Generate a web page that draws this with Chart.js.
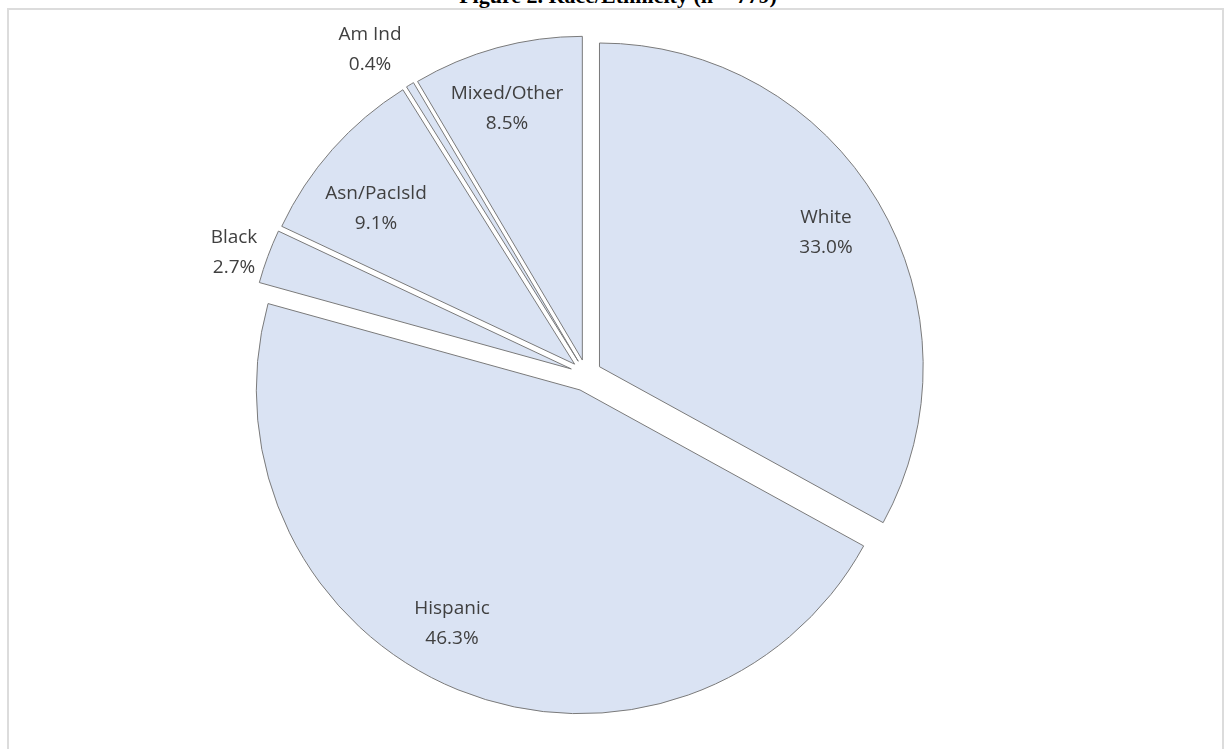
<!DOCTYPE html>
<html>
<head>
<meta charset="utf-8">
<script src="https://cdn.jsdelivr.net/npm/chart.js@4.4.1/dist/chart.umd.min.js"></script>
<style>
    html, body { margin: 0; padding: 0; background: #fff; overflow: hidden; }
    #wrap { position: relative; width: 1231px; height: 749px; }
    #frame {
        position: absolute; left: 7px; top: 8px; width: 1217px; height: 760px;
        border: 2px solid #dcdcdc; box-sizing: border-box;
    }
    #title {
        position: absolute; left: 0; width: 1236px; top: -17px;
        text-align: center; font: bold 22px "Liberation Serif", "Times New Roman", serif; color: #000;
    }
    #chartBox { position: absolute; left: 0; top: 0; width: 1231px; height: 749px; }
</style>
</head>
<body>
<div id="wrap">
    <div id="frame"></div>
    <div id="title">Figure 2. Race/Ethnicity (n = 779)</div>
    <div id="chartBox"><canvas id="raceChart"></canvas></div>
</div>
<script>
const categories = ['White', 'Hispanic', 'Black', 'Asn/PacIsld', 'Am Ind', 'Mixed/Other'];
const percents = [33.0, 46.3, 2.7, 9.1, 0.4, 8.5];

// how far each wedge is pulled out from the centre, px
const explode = [15.3, 16.7, 16, 15.6, 15.5, 15];

// label anchors (centre of the two text lines)
const labelPos = [
    [826, 233], [452, 624], [234, 253], [376, 209], [370, 50], [507, 109]
];

const explodePlugin = {
    id: 'explode',
    afterDatasetUpdate(chart, args) {
        args.meta.data.forEach((arc, i) => {
            const mid = (arc.startAngle + arc.endAngle) / 2;
            arc.x += Math.cos(mid) * explode[i];
            arc.y += Math.sin(mid) * explode[i];
        });
    }
};

const labelPlugin = {
    id: 'sliceLabels',
    afterDatasetsDraw(chart) {
        const ctx = chart.ctx;
        ctx.save();
        ctx.font = '19px "Open Sans", sans-serif';
        ctx.fillStyle = '#404040';
        ctx.textAlign = 'center';
        ctx.textBaseline = 'middle';
        categories.forEach((name, i) => {
            const [x, y] = labelPos[i];
            ctx.fillText(name, x, y - 15);
            ctx.fillText(percents[i].toFixed(1) + '%', x, y + 15);
        });
        ctx.restore();
    }
};

new Chart(document.getElementById('raceChart').getContext('2d'), {
    type: 'pie',
    data: {
        labels: categories,
        datasets: [{
            data: percents,
            backgroundColor: '#dae3f3',
            borderColor: '#7a7a7a',
            borderWidth: 1,
            radius: 323.7
        }]
    },
    options: {
        responsive: true,
        maintainAspectRatio: false,
        animation: false,
        layout: { padding: { left: 0, right: 58.4, top: 0, bottom: 0 } },
        plugins: {
            legend: { display: false },
            tooltip: { enabled: false }
        }
    },
    plugins: [explodePlugin, labelPlugin]
});
</script>
</body>
</html>
